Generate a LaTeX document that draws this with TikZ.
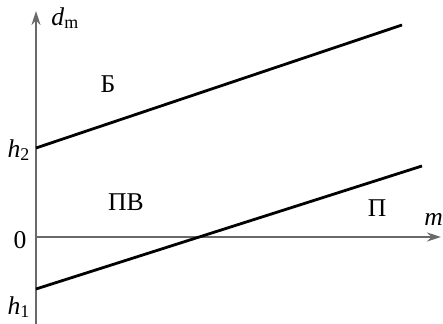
\documentclass[tikz,border=0pt]{standalone}
\usepackage{fontspec}
\setmainfont{Liberation Serif}
\usetikzlibrary{arrows.meta,positioning}
\definecolor{axisgray}{RGB}{105,105,105}
\tikzset{
  axisline/.style={axisgray, line width=1pt, -{Stealth[length=7pt,width=4.5pt]}},
  bound/.style={black, line width=1.4pt},
  lbl/.style={font=\fontsize{12.8}{15}\selectfont, inner sep=0pt}
}
\newcommand{\ivar}[2]{\textit{#1}\textsubscript{#2}}

\begin{document}
\begin{tikzpicture}[x=0.5pt,y=-0.5pt]
  \useasboundingbox (0,0) rectangle (443,324);
  % Axes
  \coordinate (O) at (36,237);
  \coordinate (ybot) at (36,324);
  \coordinate (ytop) at (36,11);
  \coordinate (xend) at (441,237);
  \draw[axisline] (ybot) -- (ytop);
  \draw[axisline] (O) -- (xend);
  % Boundary lines
  \coordinate (h2) at (36,148);
  \coordinate (up2) at (402,25);
  \coordinate (h1) at (36,289);
  \coordinate (up1) at (422,166);
  \draw[bound] (h2) -- (up2);
  \draw[bound] (h1) -- (up1);
  % Axis labels
  \node[lbl, anchor=west] (dm) at (51,18) {\ivar{d}{m}};
  \node[lbl, anchor=west] (mlab) at (424,219) {\textit{m}};
  \node[lbl] (zero) at (20,240) {0};
  \node[lbl] (h2lab) at (19,150) {\ivar{h}{2}};
  \node[lbl] (h1lab) at (19,307) {\ivar{h}{1}};
  % Regions
  \node[lbl] (regB) at (108,84) {Б};
  \node[lbl] (regPV) at (126,202) {ПВ};
  \node[lbl] (regP) at (377,208) {П};
\end{tikzpicture}
\end{document}
